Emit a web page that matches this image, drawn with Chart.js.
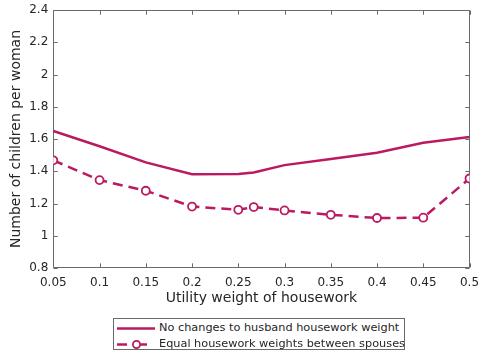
<!DOCTYPE html>
<html>
<head>
<meta charset="utf-8">
<script src="https://cdn.jsdelivr.net/npm/chart.js@4/dist/chart.umd.min.js"></script>
<style>
  html, body { margin: 0; padding: 0; background: #fff; }
  #wrap { position: relative; width: 478px; height: 353px; }
  #legend {
    position: absolute; left: 113px; top: 318px; width: 292px; height: 32px;
    border: 1px solid #6a6a6a; background: #fff; box-sizing: border-box;
    font-family: "DejaVu Sans", sans-serif; font-size: 11.3px; color: #262626;
  }
  .row { position: absolute; left: 0; height: 16px; line-height: 16px; white-space: nowrap; }
  .row svg { position: absolute; left: 0; top: 0; }
  .row span { position: absolute; left: 45px; top: 0; }
</style>
</head>
<body>
<div id="wrap">
  <canvas id="c" width="478" height="353"></canvas>
  <div id="legend"></div>
</div>
<script>
// Utility weight of housework (x) and fertility outcomes for two scenarios
const utilityWeights = [0.05, 0.1, 0.15, 0.2, 0.25, 0.2667, 0.3, 0.35, 0.4, 0.45, 0.5];
const noChangeHusband = [1.65, 1.555, 1.455, 1.382, 1.383, 1.392, 1.438, 1.476, 1.515, 1.577, 1.613];
const equalWeights = [1.468, 1.345, 1.279, 1.181, 1.161, 1.178, 1.157, 1.130, 1.110, 1.112, 1.355];
const seriesNames = ['No changes to husband housework weight', 'Equal housework weights between spouses'];
const xTicks = [0.05, 0.1, 0.15, 0.2, 0.25, 0.3, 0.35, 0.4, 0.45, 0.5];
const yTicks = [0.8, 1, 1.2, 1.4, 1.6, 1.8, 2, 2.2, 2.4];
const xTitle = 'Utility weight of housework';
const yTitle = 'Number of children per woman';

const LINE = '#bb1a62';
const AXIS = '#6a6a6a';
const TEXT = '#262626';
const FONT = '"DejaVu Sans", sans-serif';

const toPoints = ys => utilityWeights.map((x, i) => ({ x, y: ys[i] }));
const fmt = v => String(+Number(v).toFixed(2));

// Box around the plot with inward tick marks on all four sides
const boxTicks = {
  id: 'boxTicks',
  beforeDatasetsDraw(chart) {
    const { ctx, chartArea: a, scales } = chart;
    const L = 4.2;
    ctx.save();
    ctx.strokeStyle = AXIS;
    ctx.lineWidth = 1;
    ctx.beginPath();
    const left = Math.round(a.left) + 0.5, right = Math.round(a.right) - 0.5;
    const top = Math.round(a.top) + 0.5, bottom = Math.round(a.bottom) - 0.5;
    ctx.rect(left, top, right - left, bottom - top);
    xTicks.forEach(v => {
      const px = Math.round(scales.x.getPixelForValue(v)) + 0.5;
      ctx.moveTo(px, bottom); ctx.lineTo(px, bottom - L);
      ctx.moveTo(px, top); ctx.lineTo(px, top + L);
    });
    yTicks.forEach(v => {
      const py = Math.round(scales.y.getPixelForValue(v)) + 0.5;
      ctx.moveTo(left, py); ctx.lineTo(left + L, py);
      ctx.moveTo(right, py); ctx.lineTo(right - L, py);
    });
    ctx.stroke();
    ctx.restore();
  }
};

new Chart(document.getElementById('c'), {
  type: 'line',
  data: {
    datasets: [
      {
        label: seriesNames[0],
        data: toPoints(noChangeHusband),
        borderColor: LINE, borderWidth: 2.5,
        pointRadius: 0, tension: 0, fill: false
      },
      {
        label: seriesNames[1],
        data: toPoints(equalWeights),
        borderColor: LINE, borderWidth: 2.5, borderDash: [10, 6],
        pointRadius: 4, pointStyle: 'circle',
        pointBorderColor: LINE, pointBackgroundColor: '#fff', pointBorderWidth: 1.8,
        tension: 0, fill: false
      }
    ]
  },
  options: {
    responsive: false,
    animation: false,
    devicePixelRatio: 1,
    layout: { padding: { left: 0, right: 8.5, top: 10, bottom: 45 } },
    plugins: { legend: { display: false }, tooltip: { enabled: false } },
    scales: {
      x: {
        type: 'linear', min: 0.05, max: 0.5,
        grid: { display: false, drawTicks: false },
        border: { display: false },
        afterBuildTicks: s => { s.ticks = xTicks.map(value => ({ value })); },
        afterFit: s => { s.height = 40; s.paddingLeft = 0; s.paddingRight = 0; },
        ticks: { color: TEXT, font: { family: FONT, size: 12 }, padding: 8, maxRotation: 0, autoSkip: false, callback: fmt },
        title: { display: true, text: xTitle, color: TEXT, font: { family: FONT, size: 14, lineHeight: 1 }, padding: { top: 0, bottom: 3 } }
      },
      y: {
        type: 'linear', min: 0.8, max: 2.4,
        grid: { display: false, drawTicks: false },
        border: { display: false },
        afterBuildTicks: s => { s.ticks = yTicks.map(value => ({ value })); },
        afterFit: s => { s.width = 53.3; s.paddingTop = 0; s.paddingBottom = 0; },
        ticks: { color: TEXT, font: { family: FONT, size: 12 }, padding: 5, autoSkip: false, callback: fmt },
        title: { display: true, text: yTitle, color: TEXT, font: { family: FONT, size: 14, lineHeight: 1 }, padding: { top: 9, bottom: 0 } }
      }
    }
  },
  plugins: [boxTicks]
});

// Boxed legend below the axes
const legend = document.getElementById('legend');
const samples = [
  '<svg width="42" height="16"><line x1="3" y1="8.5" x2="41" y2="8.5" stroke="' + LINE + '" stroke-width="2.5"/></svg>',
  '<svg width="42" height="16"><line x1="3" y1="8.5" x2="13" y2="8.5" stroke="' + LINE + '" stroke-width="2.5"/>' +
    '<line x1="26" y1="8.5" x2="33" y2="8.5" stroke="' + LINE + '" stroke-width="2.5"/>' +
    '<circle cx="22.5" cy="8.5" r="3.6" fill="#fff" stroke="' + LINE + '" stroke-width="1.8"/></svg>'
];
seriesNames.forEach((name, i) => {
  const row = document.createElement('div');
  row.className = 'row';
  row.style.top = (1 + i * 16) + 'px';
  row.innerHTML = samples[i] + '<span></span>';
  row.querySelector('span').textContent = name;
  legend.appendChild(row);
});
</script>
</body>
</html>
